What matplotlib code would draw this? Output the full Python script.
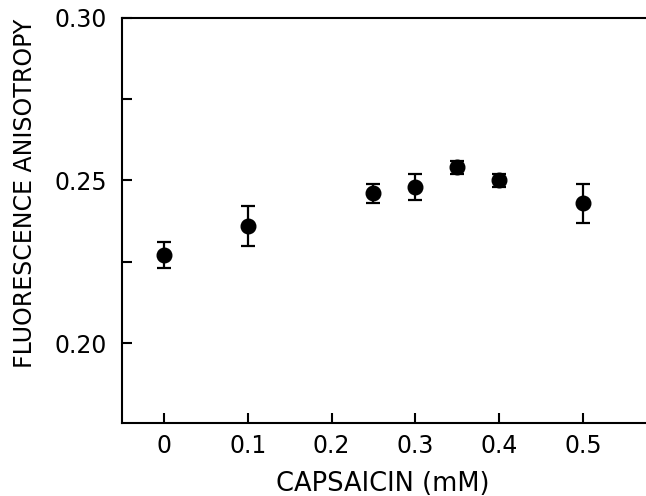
import matplotlib
matplotlib.use("Agg")
import matplotlib.pyplot as plt

# capsaicin concentration (mM) vs fluorescence anisotropy
capsaicin = [0.0, 0.1, 0.25, 0.3, 0.35, 0.4, 0.5]
anisotropy = [0.227, 0.236, 0.246, 0.248, 0.254, 0.250, 0.243]
errors = [0.004, 0.006, 0.003, 0.004, 0.002, 0.002, 0.006]

x_ticks = [0, 0.1, 0.2, 0.3, 0.4, 0.5]
x_tick_labels = ["0", "0.1", "0.2", "0.3", "0.4", "0.5"]
y_ticks = [0.20, 0.225, 0.25, 0.275, 0.30]
y_tick_labels = ["0.20", "", "0.25", "", "0.30"]

plt.rcParams["font.family"] = ["DejaVu Sans"]

fig = plt.figure(figsize=(6.46, 4.96), dpi=100)
ax = fig.add_axes([0.189, 0.147, 0.85, 0.817])

ax.errorbar(capsaicin, anisotropy, yerr=errors, fmt="o", color="black",
            markersize=10.5, capsize=5, capthick=1.6, elinewidth=1.6)

ax.set_xlim(-0.05, -0.05 + 0.85 * 646 / 838)
ax.set_ylim(0.1754, 0.30)

ax.set_xticks(x_ticks)
ax.set_xticklabels(x_tick_labels)
ax.set_yticks(y_ticks)
ax.set_yticklabels(y_tick_labels)

ax.tick_params(direction="in", length=7, width=1.5, labelsize=17)
ax.tick_params(axis="x", pad=8)
ax.tick_params(axis="y", pad=11)
for side in ["left", "bottom", "top"]:
    ax.spines[side].set_linewidth(1.5)
ax.spines["right"].set_visible(False)

ax.set_xlabel("CAPSAICIN (mM)", fontsize=18.5, va="center")
ax.set_ylabel("FLUORESCENCE ANISOTROPY", fontsize=17, va="center")
ax.xaxis.set_label_coords(0.474, -0.15)
ax.yaxis.set_label_coords(-0.177, 0.568)

fig.savefig("out.png", dpi=100)
